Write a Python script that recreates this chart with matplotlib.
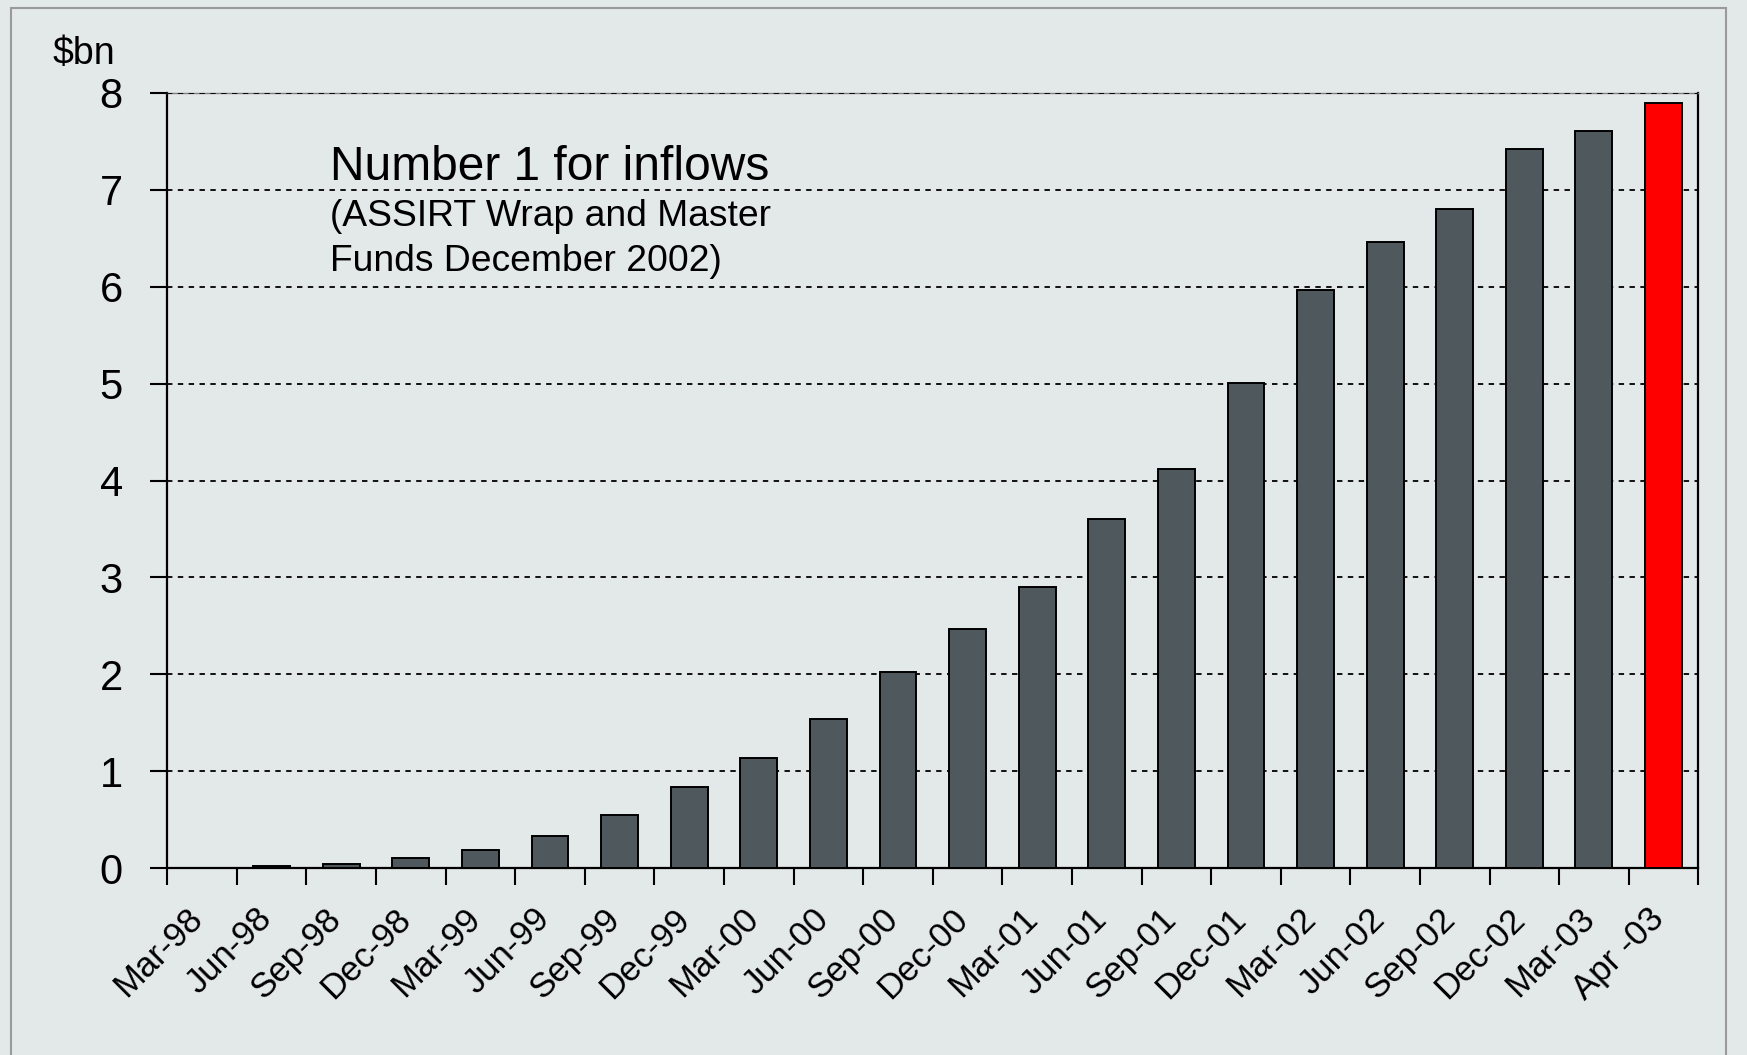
import numpy as np
import matplotlib
matplotlib.use('Agg')
import matplotlib.pyplot as plt
from matplotlib.patches import Rectangle
import matplotlib.transforms as mtrans

plt.rcParams['font.family'] = ['Liberation Sans', 'DejaVu Sans']

quarters = ['Mar-98', 'Jun-98', 'Sep-98', 'Dec-98',
            'Mar-99', 'Jun-99', 'Sep-99', 'Dec-99',
            'Mar-00', 'Jun-00', 'Sep-00', 'Dec-00',
            'Mar-01', 'Jun-01', 'Sep-01', 'Dec-01',
            'Mar-02', 'Jun-02', 'Sep-02', 'Dec-02',
            'Mar-03', 'Apr -03']
inflows = [0.0, 0.024, 0.045, 0.106, 0.19, 0.334, 0.544, 0.84,
           1.14, 1.54, 2.02, 2.47, 2.9, 3.6, 4.12, 5.01,
           5.97, 6.46, 6.8, 7.42, 7.61, 7.9]
y_ticks = [0, 1, 2, 3, 4, 5, 6, 7, 8]

bg = '#e3e9e8'
bar_col = '#4e585d'
hi_col = '#ff0000'

W, H = 1747, 1055
fig = plt.figure(figsize=(W / 100, H / 100), dpi=100)
fig.patch.set_facecolor(bg)

# grey frame round the whole slide
fig.patches.append(Rectangle((11 / W, -0.05), (1726 - 11) / W, 1 - 8 / H + 0.05,
                             transform=fig.transFigure, fill=False,
                             edgecolor='#9a9a9a', lw=1.5))

ax = fig.add_axes([167.3 / W, 1 - 868 / H, (1698.3 - 167.3) / W, 775 / H])
ax.set_facecolor(bg)

x = np.arange(len(quarters))
colors = [bar_col] * (len(quarters) - 1) + [hi_col]
ax.bar(x, inflows, width=0.53, color=colors, edgecolor='black', lw=1.4, zorder=3)

# dotted gridlines
for yv in y_ticks[1:]:
    ax.axhline(yv, color='black', lw=1.3, linestyle=(0, (3, 3)), zorder=1 if yv < 8 else 4)

ax.set_xlim(-0.5, len(quarters) - 0.5)
ax.set_ylim(0, 8)
ax.set_yticks(y_ticks)
ax.set_yticklabels([str(v) for v in y_ticks], fontsize=30)
ax.set_xticks(np.arange(len(quarters) + 1) - 0.5)
ax.set_xticklabels([])
ax.tick_params(axis='both', direction='out', length=12, width=1.5, color='black')
ax.tick_params(axis='y', pad=20)

for s in ['left', 'bottom', 'right']:
    ax.spines[s].set_color('black')
    ax.spines[s].set_linewidth(1.6)
ax.spines['top'].set_color('#808080')
ax.spines['top'].set_linewidth(1.0)

# category labels sit just right of the left boundary tick
trans = mtrans.blended_transform_factory(ax.transData, ax.transAxes)
for i, lab in enumerate(quarters):
    ax.text(i - 0.24, -0.044, lab, transform=trans, rotation=45,
            ha='right', va='top', rotation_mode='anchor', fontsize=25)

fig.text(53 / W, 1 - 36 / H, '$bn', fontsize=27, ha='left', va='top')
fig.text(330 / W, 1 - 145 / H, 'Number 1 for inflows', fontsize=34.5, ha='left', va='top')
fig.text(330 / W, 1 - 199 / H, '(ASSIRT Wrap and Master\nFunds December 2002)',
         fontsize=26.8, ha='left', va='top', linespacing=1.36)

fig.savefig('out.png', dpi=100, facecolor=bg)
